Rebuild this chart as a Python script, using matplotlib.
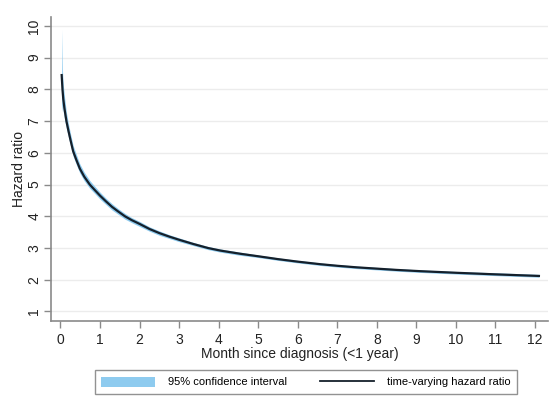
import matplotlib.pyplot as plt
from matplotlib.patches import Patch
from matplotlib.lines import Line2D

plt.rcParams['font.family'] = ['Liberation Sans', 'DejaVu Sans']

# Time-varying hazard ratio estimates (months since diagnosis)
months = [0.03, 0.05, 0.07, 0.1, 0.15, 0.2, 0.25, 0.32, 0.4, 0.49, 0.6, 0.74, 0.85,
          1.0, 1.15, 1.3, 1.45, 1.63, 1.8, 2.0, 2.25, 2.5, 2.75, 3.0, 3.35, 3.73,
          4.04, 4.54, 5.0, 5.5, 6.0, 6.57, 7.0, 7.5, 8.0, 8.5, 9.1, 10.0, 11.0, 12.1]
hazard_ratio = [8.45, 8.0, 7.7, 7.4, 7.0, 6.7, 6.42, 6.05, 5.78, 5.5, 5.25, 5.0, 4.85,
                4.65, 4.47, 4.3, 4.16, 4.0, 3.88, 3.76, 3.6, 3.47, 3.36, 3.26, 3.13, 3.0,
                2.92, 2.82, 2.74, 2.65, 2.57, 2.49, 2.44, 2.39, 2.35, 2.31, 2.27, 2.22, 2.17, 2.12]
ci_upper = [9.9, 8.6, 8.15, 7.78, 7.27, 6.92, 6.62, 6.23, 5.95, 5.65, 5.39, 5.13, 4.97,
            4.76, 4.57, 4.4, 4.25, 4.09, 3.96, 3.84, 3.67, 3.54, 3.42, 3.32, 3.18, 3.05,
            2.97, 2.87, 2.78, 2.69, 2.61, 2.53, 2.48, 2.43, 2.39, 2.35, 2.31, 2.26, 2.22, 2.17]
ci_lower = [7.3, 7.5, 7.3, 7.07, 6.76, 6.5, 6.24, 5.89, 5.63, 5.36, 5.12, 4.88, 4.74,
            4.54, 4.37, 4.2, 4.07, 3.91, 3.8, 3.68, 3.53, 3.4, 3.3, 3.2, 3.08, 2.95,
            2.87, 2.77, 2.7, 2.61, 2.53, 2.45, 2.4, 2.35, 2.31, 2.27, 2.23, 2.18, 2.13, 2.08]

x_ticks = list(range(0, 13))
y_ticks = list(range(1, 11))

fig = plt.figure(figsize=(5.5, 3.96), dpi=100)
ax = fig.add_axes([51 / 550, 75 / 396, 497 / 550, 304 / 396])

band_color = '#8ecbef'
line_color = '#15202b'

ax.fill_between(months, ci_lower, ci_upper, color=band_color, lw=0)
ax.plot(months, hazard_ratio, color=line_color, lw=1.6)

ax.set_xlim(-0.24, 12.33)
ax.set_ylim(0.7, 10.28)
ax.set_xticks(x_ticks)
ax.set_yticks(y_ticks)
ax.grid(axis='y', color='#ececec', lw=1)
ax.set_axisbelow(True)

for side in ['top', 'right']:
    ax.spines[side].set_visible(False)
for side in ['left', 'bottom']:
    ax.spines[side].set_color('#8a8a8a')
    ax.spines[side].set_linewidth(1.2)

ax.tick_params(axis='both', colors='#8a8a8a', length=5, width=1, labelsize=10,
               labelcolor='#222222')
ax.tick_params(axis='y', labelrotation=90, pad=2)
for lbl in ax.get_yticklabels():
    lbl.set_va('center')

ax.set_xlabel('Month since diagnosis (<1 year)', fontsize=10, color='#222222', labelpad=0)
ax.set_ylabel('Hazard ratio', fontsize=10, color='#222222', labelpad=1)

handles = [Patch(facecolor=band_color, edgecolor='none'),
           Line2D([], [], color=line_color, lw=1.3)]
fig.legend(handles, ['95% confidence interval', 'time-varying hazard ratio'],
           loc='center', bbox_to_anchor=(306 / 550, 1 - 382 / 396), ncol=2,
           fontsize=8, frameon=True, fancybox=False, edgecolor='#777777',
           handlelength=4.8, handleheight=1.0, columnspacing=3.0,
           borderpad=0.6, handletextpad=1.2)

fig.savefig('out.png', dpi=100, facecolor='white')
